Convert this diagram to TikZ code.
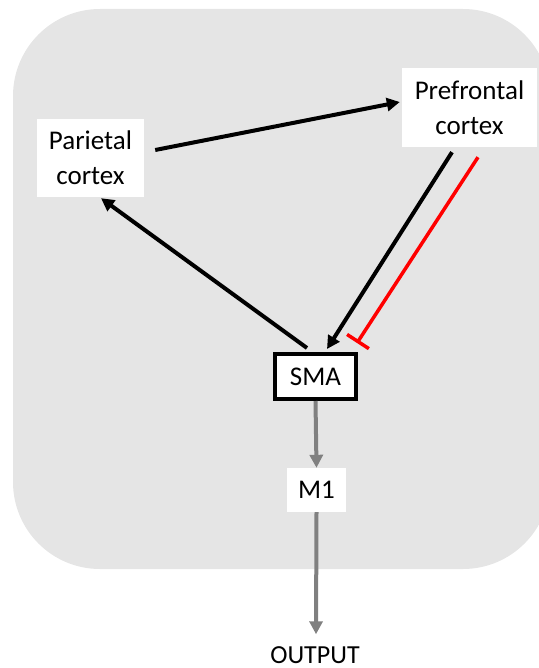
\documentclass[tikz,border=0pt]{standalone}
\usepackage{fontspec}
\setmainfont{Carlito}
\usetikzlibrary{arrows.meta,calc}
\definecolor{panel}{RGB}{229,229,229}
\definecolor{flowgray}{RGB}{128,128,128}
\begin{document}
\begin{tikzpicture}[x=1pt,y=-1pt,
  area/.style={fill=white,draw=none,align=center,inner sep=0pt,font=\fontsize{27}{35}\selectfont},
  excite/.style={line width=4pt,-{Triangle[length=13pt,width=13pt]}},
  inhibit/.style={red,line width=3.5pt,-{Bar[width=26pt,line width=3.5pt]}},
  relay/.style={flowgray,line width=4pt,-{Triangle[length=13pt,width=13pt]}}]
\useasboundingbox (0,0) rectangle (538,668);
% shaded panel, running past the right edge
\fill[panel,rounded corners=87pt] (13,9) rectangle (550,569);

\node[area,minimum width=107pt,minimum height=78pt] (par) at (90.5,158) {Parietal\\cortex};
\node[area,minimum width=135pt,minimum height=79pt] (pfc) at (469.5,107.5) {Prefrontal\\cortex};
\node[area,draw=black,line width=4pt,minimum width=81pt,minimum height=45pt] (sma) at (315.5,376.5) {SMA};
\node[area,minimum width=59pt,minimum height=44pt] (m1) at (316.5,490) {M1};
\node[align=center,inner sep=0pt,font=\fontsize{26}{32}\selectfont] (out) at (315,655) {OUTPUT};

% cortical loop
\draw[excite] ($(par.east)+(11,-8)$) -- ($(pfc.west)+(-2,-5.5)$);
\draw[excite] ($(sma.north)+(-8.5,-4)$) -- ($(par.south)+(10.5,1)$);
\draw[excite] ($(pfc.south)+(-17.5,5)$) -- ($(sma.north)+(11.5,-3)$);
\draw[inhibit] ($(pfc.south)+(8.5,10)$) -- ($(sma.north)+(41.5,-9)$);

% motor output path
\draw[relay] (sma.south) -- (m1.north);
\draw[relay] (m1.south) -- ($(out.north)+(1,-12)$);
\end{tikzpicture}
\end{document}
